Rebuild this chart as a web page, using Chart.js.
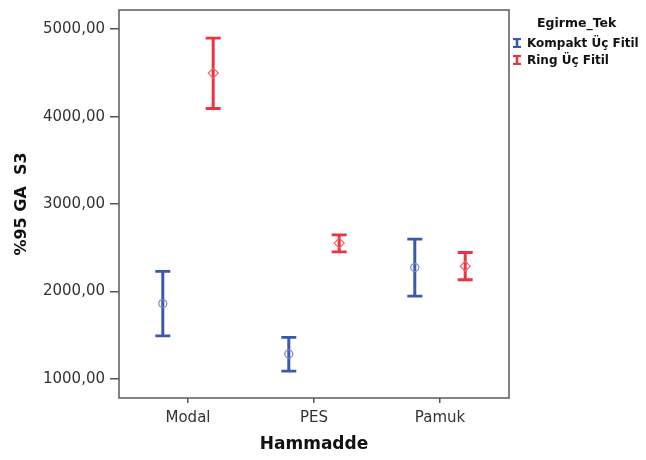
<!DOCTYPE html>
<html>
<head>
<meta charset="utf-8">
<script src="https://cdn.jsdelivr.net/npm/chart.js@4"></script>
<style>
  html, body { margin: 0; padding: 0; background: #fff; }
  #wrap { position: relative; width: 646px; height: 460px; }
  #legend { position: absolute; left: 0; top: 0; font-family: "DejaVu Sans", sans-serif; font-weight: bold; color: #111; }
  #legend .title { position: absolute; left: 537px; top: 15px; font-size: 12.5px; white-space: nowrap; }
  #legend .item { position: absolute; left: 512px; font-size: 12px; white-space: nowrap; display: flex; align-items: center; }
  #legend .item svg { margin-right: 5px; }
</style>
</head>
<body>
<div id="wrap">
  <canvas id="c" width="646" height="460"></canvas>
  <div id="legend"></div>
</div>
<script>
const categories = ['Modal', 'PES', 'Pamuk'];
const seriesNames = ['Kompakt Üç Fitil', 'Ring Üç Fitil'];
const legendTitle = 'Egirme_Tek';
const xTitle = 'Hammadde';
const yTitle = '%95 GA  S3';
const yTicks = [1000, 2000, 3000, 4000, 5000];

const kompaktMean = [1861, 1283, 2273];
const kompaktLow  = [1492, 1088, 1946];
const kompaktHigh = [2228, 1473, 2598];

const ringMean = [4498, 2553, 2289];
const ringLow  = [4093, 2453, 2133];
const ringHigh = [4898, 2647, 2445];

const lineColors = ['#3C58AE', '#EC333F'];
const markerColors = ['#6F86CC', '#F0606B'];
const seriesOffset = [-0.2, 0.2];

const lows = [kompaktLow, ringLow];
const highs = [kompaktHigh, ringHigh];
const means = [kompaktMean, ringMean];

const datasets = means.map((arr, s) => ({
  label: seriesNames[s],
  data: arr.map((v, i) => ({ x: i + 1 + seriesOffset[s], y: v, low: lows[s][i], high: highs[s][i] })),
  showLine: false,
  pointStyle: s === 0 ? 'circle' : 'rectRot',
  pointRadius: s === 0 ? 4 : 5,
  pointHoverRadius: s === 0 ? 4 : 5,
  pointBorderWidth: 1.2,
  pointBorderColor: markerColors[s],
  pointBackgroundColor: 'rgba(255,255,255,0)',
  errColor: lineColors[s]
}));

const errorBars = {
  id: 'errorBars',
  beforeDatasetsDraw(chart) {
    const { ctx, scales: { x, y } } = chart;
    ctx.save();
    chart.data.datasets.forEach(ds => {
      ctx.strokeStyle = ds.errColor;
      ctx.lineCap = 'butt';
      ds.data.forEach(p => {
        const px = x.getPixelForValue(p.x);
        const yl = y.getPixelForValue(p.low);
        const yh = y.getPixelForValue(p.high);
        ctx.lineWidth = 3;
        ctx.beginPath();
        ctx.moveTo(px, yl); ctx.lineTo(px, yh);
        ctx.stroke();
        ctx.lineWidth = 2.8;
        ctx.beginPath();
        ctx.moveTo(px - 7.5, yl); ctx.lineTo(px + 7.5, yl);
        ctx.moveTo(px - 7.5, yh); ctx.lineTo(px + 7.5, yh);
        ctx.stroke();
      });
    });
    ctx.restore();
  }
};

const frame = {
  id: 'frame',
  afterDraw(chart) {
    const { ctx, chartArea: a } = chart;
    ctx.save();
    ctx.strokeStyle = '#5a5a5a';
    ctx.lineWidth = 1.5;
    ctx.strokeRect(a.left, a.top, a.right - a.left, a.bottom - a.top);
    ctx.restore();
  }
};

new Chart(document.getElementById('c'), {
  type: 'scatter',
  data: { datasets },
  plugins: [errorBars, frame],
  options: {
    responsive: false,
    animation: false,
    layout: { padding: { left: 0, top: 10, right: 137, bottom: 0 } },
    plugins: { legend: { display: false }, tooltip: { enabled: false } },
    scales: {
      x: {
        type: 'linear',
        min: 0.4524,
        max: 3.5476,
        afterFit(scale) { scale.height = 62; scale.paddingLeft = 0; scale.paddingRight = 0; },
        afterBuildTicks(scale) { scale.ticks = categories.map((c, i) => ({ value: i + 1 })); },
        ticks: {
          callback: v => categories[Math.round(v) - 1] || '',
          font: { family: 'DejaVu Sans', size: 15 },
          color: '#333',
          padding: 6,
          maxRotation: 0,
          autoSkip: false
        },
        grid: { drawOnChartArea: false, drawTicks: true, tickLength: 5, color: '#555', lineWidth: 1.5 },
        border: { display: false },
        title: {
          display: true,
          text: xTitle,
          font: { family: 'DejaVu Sans', size: 17, weight: 'bold' },
          color: '#111',
          padding: { top: 0, bottom: 5 }
        }
      },
      y: {
        min: 780,
        max: 5220,
        afterFit(scale) { scale.width = 119; scale.paddingTop = 0; scale.paddingBottom = 0; },
        afterBuildTicks(scale) { scale.ticks = yTicks.map(v => ({ value: v })); },
        ticks: {
          callback: v => v.toFixed(2).replace('.', ','),
          font: { family: 'DejaVu Sans', size: 15 },
          color: '#333',
          padding: 5
        },
        grid: { drawOnChartArea: false, drawTicks: true, tickLength: 9, color: '#555', lineWidth: 1.5 },
        border: { display: false },
        title: {
          display: true,
          text: yTitle,
          font: { family: 'DejaVu Sans', size: 16, weight: 'bold' },
          color: '#111',
          padding: { top: 12, bottom: 0 }
        }
      }
    }
  }
});

// HTML legend
const leg = document.getElementById('legend');
const t = document.createElement('div');
t.className = 'title';
t.textContent = legendTitle;
leg.appendChild(t);
const itemCenters = [43, 60];
seriesNames.forEach((name, s) => {
  const d = document.createElement('div');
  d.className = 'item';
  d.style.top = (itemCenters[s] - 7) + 'px';
  d.style.height = '14px';
  const c = lineColors[s];
  d.innerHTML = '<svg width="10" height="10" viewBox="0 0 10 10">' +
    '<line x1="1" y1="1" x2="9" y2="1" stroke="' + c + '" stroke-width="2.2"/>' +
    '<line x1="5" y1="1" x2="5" y2="9" stroke="' + c + '" stroke-width="2.6"/>' +
    '<line x1="1" y1="9" x2="9" y2="9" stroke="' + c + '" stroke-width="2.2"/></svg>';
  const sp = document.createElement('span');
  sp.textContent = name;
  d.appendChild(sp);
  leg.appendChild(d);
});
</script>
</body>
</html>
